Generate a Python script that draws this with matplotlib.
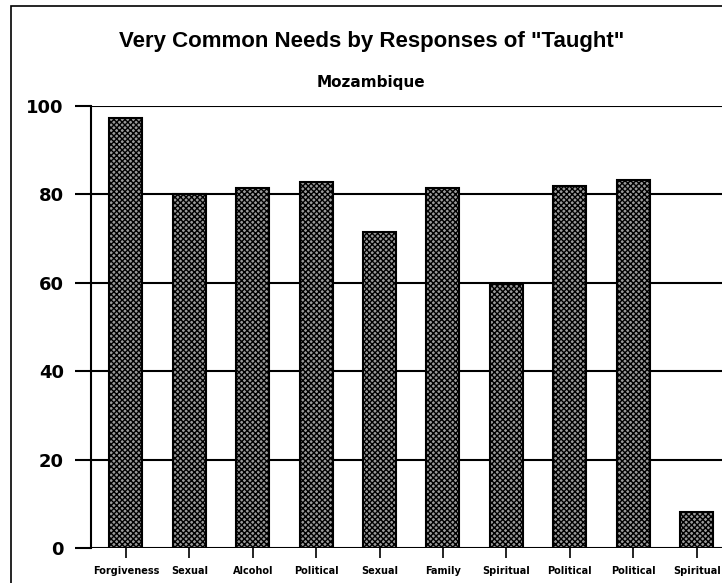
import matplotlib
matplotlib.use("Agg")
import matplotlib.pyplot as plt
from matplotlib.patches import Rectangle

plt.rcParams['font.family'] = ['Liberation Sans', 'DejaVu Sans']
plt.rcParams['hatch.linewidth'] = 1.0

needs = ["Forgiveness", "Sexual", "Alcohol", "Political", "Sexual",
         "Family", "Spiritual", "Political", "Political", "Spiritual"]
taught = [97.3, 80.1, 81.5, 82.8, 71.6, 81.5, 59.7, 82.0, 83.3, 8.1]
yticks = [0, 20, 40, 60, 80, 100]

W, H = 722, 583
fig = plt.figure(figsize=(W / 100, H / 100), dpi=100)
ax = fig.add_axes([91 / W, 35 / H, 1 - 91 / W, (548 - 106) / H])

x = range(len(needs))
ax.bar(x, taught, width=0.52, facecolor='#9a9a9a', edgecolor='black',
       linewidth=1.5, hatch='xxxxxx', zorder=3)

ax.set_xlim(-0.55, 9.40)
ax.set_ylim(0, 100)
ax.set_yticks(yticks)
ax.set_xticks(list(x))
ax.set_xticklabels(needs, fontsize=7, fontweight='bold', family='DejaVu Sans')
ax.set_yticklabels([str(v) for v in yticks], fontsize=13, fontweight='bold',
                   family='DejaVu Sans')
ax.tick_params(axis='y', length=11.5, width=1.5, pad=8)
ax.tick_params(axis='x', length=7, width=1.2, pad=6)

for v in yticks:
    ax.axhline(v, color='black', lw=1.5, zorder=1)

for s in ['top', 'right', 'bottom']:
    ax.spines[s].set_visible(False)
ax.spines['left'].set_linewidth(1.5)

# outer frame of the chart
fig.patches.append(Rectangle((11 / W, -0.1), 1.2, 1.1 - 6 / H,
                             transform=fig.transFigure, fill=False,
                             edgecolor='black', lw=1.2))

fig.text(372 / W, 1 - 42 / H, 'Very Common Needs by Responses of "Taught"',
         ha='center', va='center', fontsize=16, fontweight='bold')
fig.text(371 / W, 1 - 82 / H, 'Mozambique', ha='center', va='center',
         fontsize=11, fontweight='bold', family='DejaVu Sans')

fig.savefig("out.png", dpi=100)
